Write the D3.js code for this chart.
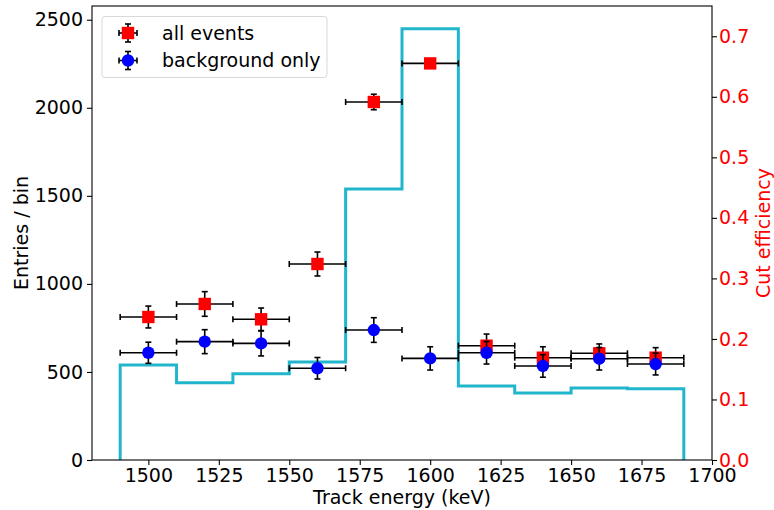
<!DOCTYPE html>
<html>
<head>
<meta charset="utf-8">
<script src="https://cdn.jsdelivr.net/npm/d3@7"></script>
<style>
    body { margin: 0; background: #fff; }
    text { font-family: "DejaVu Sans", sans-serif; }
    .axis text { font-size: 19px; }
    .axis path, .axis line { stroke: #000; stroke-width: 1.1; }
</style>
</head>
<body>
<svg id="chart"></svg>
<script>
// bin edges and step histogram (entries / bin)
const binEdges = [1490, 1510, 1530, 1550, 1570, 1590, 1610, 1630, 1650, 1670, 1690];
const stepValues = [539, 439, 490, 556, 1539, 2449, 420, 380, 409, 405];

// point centres
const centres = [1500, 1520, 1540, 1560, 1580, 1600, 1620, 1640, 1660, 1680];
const allEvents = [812, 886, 799, 1113, 2033, 2252, 649, 581, 606, 581];
const allErr = [62, 70, 64, 68, 44, 23, 66, 62, 53, 57];
const bgOnly = [609, 672, 662, 521, 738, 577, 609, 534, 575, 545];
const bgErr = [60, 68, 71, 61, 70, 66, 64, 64, 64, 62];
const xErr = 10;

const xTicks = [1500, 1525, 1550, 1575, 1600, 1625, 1650, 1675, 1700];
const yTicks = [0, 500, 1000, 1500, 2000, 2500];
const y2Ticks = [0, 0.1, 0.2, 0.3, 0.4, 0.5, 0.6, 0.7];

const W = 774, H = 510;
const margin = {top: 6, right: 62, bottom: 50, left: 92};
const width = W - margin.left - margin.right;
const height = H - margin.top - margin.bottom;
const fontSize = '19px';

const svg = d3.select('#chart').attr('width', W).attr('height', H);
const chart = svg.append('g').attr('transform', `translate(${margin.left},${margin.top})`);

const x = d3.scaleLinear().domain([1480, 1700]).range([0, width]);
const y = d3.scaleLinear().domain([0, 2578]).range([height, 0]);
const y2 = d3.scaleLinear().domain([0, 0.75]).range([height, 0]);

// step histogram
const stepPts = [[binEdges[0], 0]];
stepValues.forEach((v, i) => {
    stepPts.push([binEdges[i], v]);
    stepPts.push([binEdges[i + 1], v]);
});
stepPts.push([binEdges[binEdges.length - 1], 0]);

chart.append('path')
    .datum(stepPts)
    .attr('fill', 'none')
    .attr('stroke', '#21b6cc')
    .attr('stroke-width', 3)
    .attr('d', d3.line().x(d => x(d[0])).y(d => y(d[1])));

// error bar points
function drawSeries(vals, errs, shape, color) {
    const g = chart.append('g');
    const cap = 3;
    vals.forEach((v, i) => {
        const cx = x(centres[i]), cy = y(v);
        const x0 = x(centres[i] - xErr), x1 = x(centres[i] + xErr);
        const yt = y(v + errs[i]), yb = y(v - errs[i]);
        const lines = [
            [x0, cy, x1, cy], [cx, yt, cx, yb],
            [x0, cy - cap, x0, cy + cap], [x1, cy - cap, x1, cy + cap],
            [cx - cap, yt, cx + cap, yt], [cx - cap, yb, cx + cap, yb]
        ];
        lines.forEach(l => g.append('line')
            .attr('x1', l[0]).attr('y1', l[1]).attr('x2', l[2]).attr('y2', l[3])
            .attr('stroke', '#000').attr('stroke-width', 1.6));
        if (shape === 'square') {
            g.append('rect').attr('x', cx - 6.2).attr('y', cy - 6.2)
                .attr('width', 12.4).attr('height', 12.4).attr('fill', color);
        } else {
            g.append('circle').attr('cx', cx).attr('cy', cy).attr('r', 6.2).attr('fill', color);
        }
    });
}
drawSeries(allEvents, allErr, 'square', '#ff0000');
drawSeries(bgOnly, bgErr, 'circle', '#0000ff');

// axes
const xAxis = d3.axisBottom(x).tickValues(xTicks).tickSize(5).tickPadding(4).tickFormat(d3.format('d'));
const yAxis = d3.axisLeft(y).tickValues(yTicks).tickSize(5).tickPadding(4).tickFormat(d3.format('d'));
const y2Axis = d3.axisRight(y2).tickValues(y2Ticks).tickSize(5).tickPadding(4).tickFormat(d3.format('.1f'));

chart.append('g').attr('class', 'axis').attr('transform', `translate(0,${height})`).call(xAxis)
    .call(g => g.select('.domain').remove())
    .call(g => g.selectAll('text').attr('fill', '#000'));
chart.append('g').attr('class', 'axis').call(yAxis)
    .call(g => g.select('.domain').remove())
    .call(g => g.selectAll('text').attr('fill', '#000'));
chart.append('g').attr('class', 'axis').attr('transform', `translate(${width},0)`).call(y2Axis)
    .call(g => g.select('.domain').remove())
    .call(g => g.selectAll('text').attr('fill', '#ff0000').attr('x', 7));

// frame
chart.append('rect').attr('width', width).attr('height', height)
    .attr('fill', 'none').attr('stroke', '#000').attr('stroke-width', 1.1);

// axis titles
chart.append('text')
    .attr('x', width / 2).attr('y', height + 44)
    .attr('text-anchor', 'middle').style('font-size', fontSize)
    .text('Track energy (keV)');

svg.append('text')
    .attr('transform', `translate(28,${margin.top + height / 2}) rotate(-90)`)
    .attr('text-anchor', 'middle').style('font-size', fontSize)
    .text('Entries / bin');

svg.append('text')
    .attr('transform', `translate(770,${margin.top + height / 2}) rotate(-90)`)
    .attr('text-anchor', 'middle').style('font-size', fontSize).attr('fill', '#ff0000')
    .text('Cut efficiency');

// legend
const legend = svg.append('g');
legend.append('rect')
    .attr('x', 102).attr('y', 16.5).attr('width', 225).attr('height', 61).attr('rx', 3)
    .attr('fill', '#fff').attr('fill-opacity', 0.8).attr('stroke', '#d8d8d8');

const legendItems = [
    {label: 'all events', shape: 'square', color: '#ff0000', ly: 33},
    {label: 'background only', shape: 'circle', color: '#0000ff', ly: 60.5}
];
legendItems.forEach(it => {
    const lx = 128, c = 3, e = 9;
    [[lx - e, it.ly, lx + e, it.ly], [lx, it.ly - e, lx, it.ly + e],
     [lx - e, it.ly - c, lx - e, it.ly + c], [lx + e, it.ly - c, lx + e, it.ly + c],
     [lx - c, it.ly - e, lx + c, it.ly - e], [lx - c, it.ly + e, lx + c, it.ly + e]]
        .forEach(l => legend.append('line')
            .attr('x1', l[0]).attr('y1', l[1]).attr('x2', l[2]).attr('y2', l[3])
            .attr('stroke', '#000').attr('stroke-width', 1.6));
    if (it.shape === 'square') {
        legend.append('rect').attr('x', lx - 6.2).attr('y', it.ly - 6.2)
            .attr('width', 12.4).attr('height', 12.4).attr('fill', it.color);
    } else {
        legend.append('circle').attr('cx', lx).attr('cy', it.ly).attr('r', 6.2).attr('fill', it.color);
    }
    legend.append('text')
        .attr('x', 162).attr('y', it.ly).attr('dy', '0.35em')
        .style('font-size', fontSize)
        .text(it.label);
});
</script>
</body>
</html>
